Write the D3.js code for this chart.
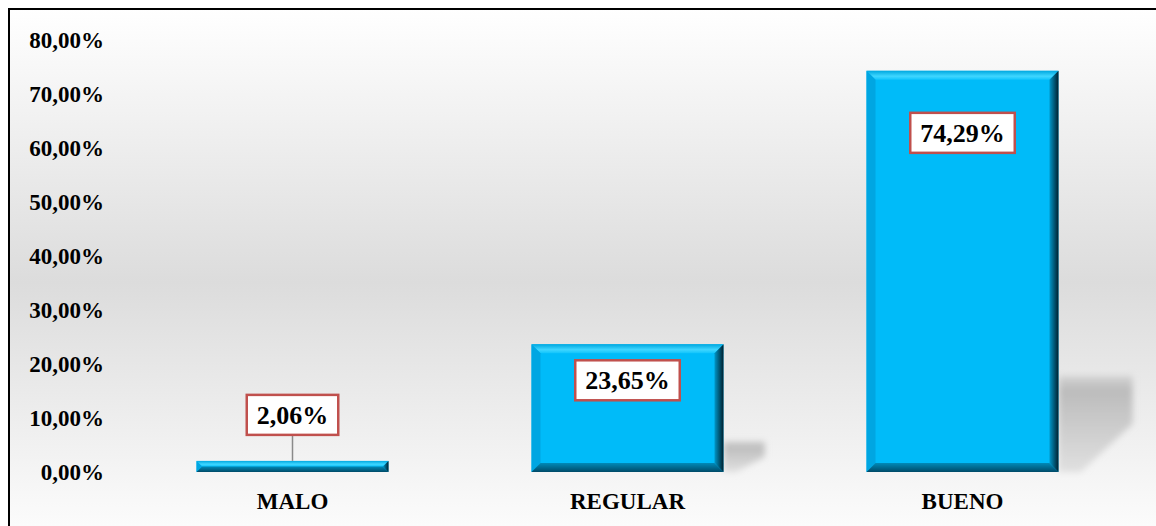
<!DOCTYPE html>
<html>
<head>
<meta charset="utf-8">
<script src="https://cdn.jsdelivr.net/npm/d3@7"></script>
<style>
  html, body { margin: 0; padding: 0; background: #fff; }
  svg { display: block; }
  text { font-family: "Liberation Serif", "Times New Roman", serif; font-weight: bold; fill: #000; }
</style>
</head>
<body>
<div id="chart"></div>
<script>
const width = 1156;
const height = 526;

// data
const categories = ["MALO", "REGULAR", "BUENO"];
const values = [2.06, 23.65, 74.29];
const valueLabels = ["2,06%", "23,65%", "74,29%"];
const yTicks = [0, 10, 20, 30, 40, 50, 60, 70, 80];
const yTickLabels = ["0,00%", "10,00%", "20,00%", "30,00%", "40,00%", "50,00%", "60,00%", "70,00%", "80,00%"];

// where the value box sits relative to the bar top (center of box)
const labelDy = [-46, 36, 62];

const svg = d3.select("#chart").append("svg")
    .attr("width", width)
    .attr("height", height);

const defs = svg.append("defs");

// background of the chart area
let bg = defs.append("linearGradient").attr("id", "bg")
    .attr("x1", 0).attr("y1", 0).attr("x2", 0).attr("y2", 1);
bg.append("stop").attr("offset", "0%").attr("stop-color", "#ffffff");
bg.append("stop").attr("offset", "50%").attr("stop-color", "#dcdcdc");
bg.append("stop").attr("offset", "100%").attr("stop-color", "#ffffff");

let rightBevel = defs.append("linearGradient").attr("id", "rb")
    .attr("x1", 0).attr("y1", 0).attr("x2", 1).attr("y2", 0);
rightBevel.append("stop").attr("offset", "0%").attr("stop-color", "#0096c8");
rightBevel.append("stop").attr("offset", "100%").attr("stop-color", "#00202e");

let topBevel = defs.append("linearGradient").attr("id", "tb")
    .attr("x1", 0).attr("y1", 0).attr("x2", 0).attr("y2", 1);
topBevel.append("stop").attr("offset", "0%").attr("stop-color", "#00a8e0");
topBevel.append("stop").attr("offset", "60%").attr("stop-color", "#3fd6ff");
topBevel.append("stop").attr("offset", "100%").attr("stop-color", "#10c4fc");

let botBevel = defs.append("linearGradient").attr("id", "bb")
    .attr("x1", 0).attr("y1", 0).attr("x2", 0).attr("y2", 1);
botBevel.append("stop").attr("offset", "0%").attr("stop-color", "#008ab8");
botBevel.append("stop").attr("offset", "100%").attr("stop-color", "#004a68");

let shade = defs.append("linearGradient").attr("id", "sh")
    .attr("x1", 0).attr("y1", 0).attr("x2", 0).attr("y2", 1);
shade.append("stop").attr("offset", "0%").attr("stop-color", "#d4d4d4");
shade.append("stop").attr("offset", "15%").attr("stop-color", "#bcbcbc");
shade.append("stop").attr("offset", "100%").attr("stop-color", "#e0e0e0");

defs.append("filter").attr("id", "blur")
    .attr("x", "-30%").attr("y", "-30%").attr("width", "160%").attr("height", "160%")
    .append("feGaussianBlur").attr("stdDeviation", 3);

svg.append("rect")
    .attr("x", 9).attr("y", 9)
    .attr("width", width + 20).attr("height", height + 20)
    .attr("fill", "url(#bg)")
    .attr("stroke", "#000")
    .attr("stroke-width", 2);

const x = d3.scaleBand()
    .domain(categories)
    .range([125, 1130])
    .paddingInner(0.427)
    .paddingOuter(0.2135);

const y = d3.scaleLinear()
    .domain([0, 80])
    .range([472, 40]);

// y axis, labels only
const yAxis = svg.append("g")
    .attr("transform", "translate(104,0)")
    .call(d3.axisLeft(y).tickValues(yTicks).tickSize(0).tickPadding(0)
        .tickFormat((d, i) => yTickLabels[i]));
yAxis.select(".domain").remove();
yAxis.selectAll("text")
    .style("font-family", "'Liberation Serif', 'Times New Roman', serif")
    .style("font-weight", "bold")
    .style("font-size", "23px")
    .attr("fill", "#000");

// x axis, labels only
const xAxis = svg.append("g")
    .attr("transform", "translate(0,493)")
    .call(d3.axisBottom(x).tickSize(0).tickPadding(0));
xAxis.select(".domain").remove();
xAxis.selectAll("text")
    .style("font-family", "'Liberation Serif', 'Times New Roman', serif")
    .style("font-weight", "bold")
    .style("font-size", "23px")
    .attr("fill", "#000");

const data = categories.map((c, i) => ({ cat: c, value: values[i], label: valueLabels[i], dy: labelDy[i] }));

// soft shadows to the right of the bars
svg.append("g").selectAll("path")
    .data(data.filter(d => y(0) - y(d.value) > 40))
    .join("path")
    .attr("d", d => {
        let x0 = x(d.cat) + x.bandwidth();
        let h = (y(0) - y(d.value)) * 0.24;
        let w = 26 + h * 0.5;
        let yb = y(0);
        return `M${x0},${yb - h} L${x0 + w},${yb - h} L${x0 + w},${yb - h * 0.5} L${x0 + w * 0.3},${yb} L${x0},${yb} Z`;
    })
    .attr("fill", "url(#sh)")
    .attr("filter", "url(#blur)");

// bars with bevel
const bars = svg.append("g").selectAll("g")
    .data(data)
    .join("g");

bars.append("rect")
    .attr("x", d => x(d.cat))
    .attr("y", d => y(d.value))
    .attr("width", x.bandwidth())
    .attr("height", d => y(0) - y(d.value))
    .attr("fill", "#00bbf9");

function bevel(d) {
    let x0 = x(d.cat), x1 = x0 + x.bandwidth();
    let y0 = y(d.value), y1 = y(0);
    let b = Math.min(9, (y1 - y0) / 2);
    return { x0, x1, y0, y1, b };
}

bars.append("path")
    .attr("d", d => { let v = bevel(d); return `M${v.x0},${v.y0} L${v.x1},${v.y0} L${v.x1 - v.b},${v.y0 + v.b} L${v.x0 + v.b},${v.y0 + v.b} Z`; })
    .attr("fill", "url(#tb)");
bars.append("path")
    .attr("d", d => { let v = bevel(d); return `M${v.x0},${v.y0} L${v.x0 + v.b},${v.y0 + v.b} L${v.x0 + v.b},${v.y1 - v.b} L${v.x0},${v.y1} Z`; })
    .attr("fill", "#00a6e2");
bars.append("path")
    .attr("d", d => { let v = bevel(d); return `M${v.x0},${v.y1} L${v.x0 + v.b},${v.y1 - v.b} L${v.x1 - v.b},${v.y1 - v.b} L${v.x1},${v.y1} Z`; })
    .attr("fill", "url(#bb)");
bars.append("path")
    .attr("d", d => { let v = bevel(d); return `M${v.x1},${v.y0} L${v.x1},${v.y1} L${v.x1 - v.b},${v.y1 - v.b} L${v.x1 - v.b},${v.y0 + v.b} Z`; })
    .attr("fill", "url(#rb)");

// value labels
const labels = svg.append("g").selectAll("g")
    .data(data)
    .join("g")
    .attr("transform", d => `translate(${x(d.cat) + x.bandwidth() / 2},${y(d.value) + d.dy})`);

labels.filter(d => d.dy < 0).append("line")
    .attr("x1", 0).attr("x2", 0)
    .attr("y1", 20)
    .attr("y2", d => -d.dy)
    .attr("stroke", "#8a8a8a")
    .attr("stroke-width", 1.5);

const boxes = labels.append("rect")
    .attr("fill", "#fff")
    .attr("stroke", "#c0504d")
    .attr("stroke-width", 2.5);

const txt = labels.append("text")
    .attr("text-anchor", "middle")
    .attr("dy", "0.34em")
    .style("font-size", "26px")
    .text(d => d.label);

txt.each(function(d, i) {
    let w = this.getComputedTextLength() + 20;
    d3.select(boxes.nodes()[i])
        .attr("x", -w / 2).attr("y", -20)
        .attr("width", w).attr("height", 40);
});
</script>
</body>
</html>
